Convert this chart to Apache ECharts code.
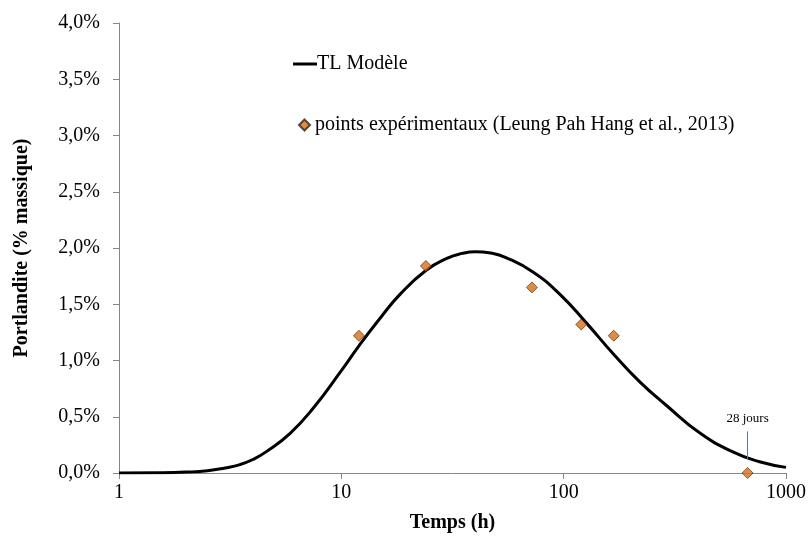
<!DOCTYPE html>
<html>
<head>
<meta charset="utf-8">
<script src="https://cdn.jsdelivr.net/npm/echarts@6/dist/echarts.min.js"></script>
<style>html,body{margin:0;padding:0;background:#fff}#c{width:812px;height:538px}</style>
</head>
<body>
<div id="c"></div>
<script>
// Model curve (TL Modèle): time in hours, portlandite in % mass
const modelTime = [1, 1.5, 2, 2.5, 3, 3.5, 4, 4.6, 5.9, 7.5, 10, 12, 15, 18.4, 24, 30, 35, 40, 47, 55, 73, 96, 127, 167, 220, 290, 410, 580, 760, 1000];
const modelValue = [0.0, 0.002, 0.008, 0.02, 0.045, 0.075, 0.12, 0.19, 0.355, 0.58, 0.91, 1.13, 1.38, 1.59, 1.80, 1.91, 1.952, 1.967, 1.955, 1.915, 1.785, 1.59, 1.33, 1.06, 0.81, 0.60, 0.355, 0.185, 0.10, 0.05];
// Experimental points
const expTime = [12, 24, 72, 120, 168, 672];
const expValue = [1.22, 1.84, 1.65, 1.32, 1.22, 0.0];
// Annotation (28 jours)
const noteTime = 672;
const noteFrom = 0.12;
const noteTo = 0.37;
const noteText = '28 jours';
// Axis ticks
const xTicks = [1, 10, 100, 1000];
const yMin = 0, yMax = 4, yStep = 0.5;

const serif = '"Liberation Serif", "Times New Roman", serif';
const axisGray = '#868686';
const fs = 20;

const chart = echarts.init(document.getElementById('c'), null, {renderer: 'canvas'});
chart.setOption({
  animation: false,
  backgroundColor: '#fff',
  grid: {left: 119, right: 26, top: 23, bottom: 63, containLabel: false},
  legend: [
    {
      data: ['TL Modèle'], left: 288, top: 49, itemWidth: 24, itemHeight: 3, itemGap: 0,
      icon: 'rect',
      textStyle: {fontFamily: serif, fontSize: fs, color: '#000', padding: [0, 0, 0, -5]},
      selectedMode: false
    },
    {
      data: ['points expérimentaux (Leung Pah Hang et al., 2013)'], left: 293, top: 110, itemWidth: 11, itemHeight: 11,
      icon: 'diamond',
      textStyle: {fontFamily: serif, fontSize: fs, color: '#000'},
      selectedMode: false
    }
  ],
  xAxis: {
    type: 'log', logBase: 10, min: xTicks[0], max: xTicks[xTicks.length - 1],
    name: 'Temps (h)', nameLocation: 'middle', nameGap: 40,
    nameTextStyle: {fontFamily: serif, fontSize: fs, fontWeight: 'bold', color: '#000'},
    axisLine: {show: true, lineStyle: {color: axisGray, width: 1}},
    axisTick: {show: true, length: 6, lineStyle: {color: axisGray}},
    minorTick: {show: false},
    splitLine: {show: false},
    axisLabel: {fontFamily: serif, fontSize: fs, color: '#000', margin: 10,
      formatter: v => String(Math.round(v))}
  },
  yAxis: {
    type: 'value', min: yMin, max: yMax, interval: yStep,
    name: 'Portlandite (% massique)', nameLocation: 'middle', nameGap: 87, nameRotate: 90,
    nameTextStyle: {fontFamily: serif, fontSize: fs, fontWeight: 'bold', color: '#000'},
    axisLine: {show: true, lineStyle: {color: axisGray, width: 1}},
    axisTick: {show: true, length: 6, lineStyle: {color: axisGray}},
    splitLine: {show: false},
    axisLabel: {fontFamily: serif, fontSize: fs, color: '#000', margin: 19,
      formatter: v => v.toFixed(1).replace('.', ',') + '%'}
  },
  series: [
    {
      name: 'TL Modèle', type: 'line', smooth: 0.5, symbol: 'none',
      data: modelTime.map((t, i) => [t, modelValue[i]]),
      lineStyle: {color: '#000', width: 3},
      itemStyle: {color: '#000'},
      z: 3
    },
    {
      name: 'points expérimentaux (Leung Pah Hang et al., 2013)', type: 'scatter',
      symbol: 'diamond', symbolSize: 11, clip: false,
      data: expTime.map((t, i) => [t, expValue[i]]),
      itemStyle: {color: '#E36C09', borderColor: '#262626', borderWidth: 0.8},
      z: 5,
      markLine: {
        silent: true, animation: false,
        symbol: ['none', 'path://M0,10 L5,0 L10,10 L8.6,10 L5,2.8 L1.4,10 Z'],
        symbolSize: [0, 9],
        lineStyle: {color: '#4A7EBB', width: 1, type: 'solid', opacity: 1},
        label: {show: true, position: 'end', formatter: noteText, distance: 6,
          fontFamily: serif, fontSize: 13, color: '#000'},
        data: [[{coord: [noteTime, noteFrom]}, {coord: [noteTime, noteTo]}]]
      }
    }
  ]
});
</script>
</body>
</html>
